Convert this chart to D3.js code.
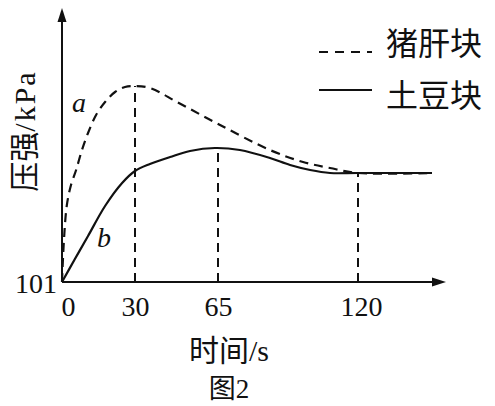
<!DOCTYPE html>
<html>
<head>
<meta charset="utf-8">
<script src="https://cdn.jsdelivr.net/npm/d3@7/dist/d3.min.js"></script>
<style>
  html, body { margin: 0; padding: 0; background: #fff; }
  svg { display: block; }
  text { font-family: "Liberation Serif", "Noto Sans CJK SC", serif; fill: #111; }
  .cjk { font-family: "Noto Sans CJK SC", sans-serif; }
  .lat { font-family: "Liberation Serif", serif; }
</style>
</head>
<body>
<svg id="chart" width="495" height="406"></svg>
<script>
// ---- data ----
const xTicks = [0, 30, 65, 120];
const yTicks = [101];
const seriesNames = ["猪肝块", "土豆块"];
const curveLabels = ["a", "b"];
// curve a : 猪肝块 (time s, pressure kPa)
const liverTime = [0, 0.8, 2.0, 3.7, 5.8, 8.2, 10.7, 14.0, 17.7, 21.8, 25.9, 30, 36.3, 47.7, 65.8, 85.4, 98.4, 109, 120, 150];
const liverPressure = [101, 105.2, 108.7, 110.7, 112.2, 114.2, 115.9, 117.7, 119.0, 120.0, 120.5, 120.6, 120.4, 119.0, 116.7, 114.2, 113.0, 112.4, 111.9, 111.9];
// curve b : 土豆块
const potatoTime = [0, 5.3, 10.7, 17.7, 24.7, 30, 36.3, 44.8, 53.2, 63.7, 73.6, 85.4, 93.3, 101.2, 109, 120, 150];
const potatoPressure = [101, 103.3, 105.6, 108.6, 110.9, 112.1, 112.8, 113.5, 114.1, 114.4, 114.2, 113.4, 112.7, 112.2, 111.9, 111.9, 111.9];
// guide lines: [time, pressure top]
const guideTime = [30, 65, 120];
const guideTop = [120.6, 114.4, 111.9];

// ---- drawing ----
const svg = d3.select("#chart");
const x = d3.scaleLinear().domain([0, 30, 65, 120, 150]).range([62, 135, 218, 358, 432]);
const y = d3.scaleLinear().domain([101, 128.4]).range([282, 8]);

const ink = "#111";

// guide lines
svg.append("g").selectAll("line").data(guideTime).join("line")
  .attr("x1", d => x(d)).attr("x2", d => x(d))
  .attr("y1", y(101)).attr("y2", (d, i) => y(guideTop[i]))
  .attr("stroke", ink).attr("stroke-width", 2).attr("stroke-dasharray", "9,6");

const line = d3.line().x(d => x(d[0])).y(d => y(d[1])).curve(d3.curveCatmullRom.alpha(0.5));
const liver = liverTime.map((t, i) => [t, liverPressure[i]]);
const potato = potatoTime.map((t, i) => [t, potatoPressure[i]]);

svg.append("path").attr("d", line(liver)).attr("fill", "none")
  .attr("stroke", ink).attr("stroke-width", 2.2).attr("stroke-dasharray", "9,6");
svg.append("path").attr("d", line(potato)).attr("fill", "none")
  .attr("stroke", ink).attr("stroke-width", 2.2);

// axes
const xAxis = svg.append("g").attr("transform", `translate(0,${y(101)})`)
  .call(d3.axisBottom(x).tickValues(xTicks).tickSize(0).tickPadding(14).tickFormat(d3.format("d")));
xAxis.select(".domain").remove();
xAxis.selectAll("text").style("font-size", "28px").style("font-family", "Liberation Serif").style("fill", ink)
  .attr("dx", d => d === 0 ? 6 : (d === 120 ? 3 : 0));

const yAxis = svg.append("g").attr("transform", `translate(${x(0)},0)`)
  .call(d3.axisLeft(y).tickValues(yTicks).tickSize(0).tickPadding(5).tickFormat(d3.format("d")));
yAxis.select(".domain").remove();
yAxis.selectAll("text").style("font-size", "28px").style("font-family", "Liberation Serif").style("fill", ink).attr("dy", "0.38em");

// axis lines with arrows
svg.append("line").attr("x1", x(0)).attr("x2", 440).attr("y1", y(101)).attr("y2", y(101))
  .attr("stroke", ink).attr("stroke-width", 2);
svg.append("line").attr("x1", x(0)).attr("x2", x(0)).attr("y1", y(101)).attr("y2", 14)
  .attr("stroke", ink).attr("stroke-width", 2);
svg.append("path").attr("d", `M${x(0)},8 L${x(0) - 4.5},22 L${x(0) + 4.5},22 Z`).attr("fill", ink);
svg.append("path").attr("d", `M446,${y(101)} L432,${y(101) - 4.5} L432,${y(101) + 4.5} Z`).attr("fill", ink);

// axis titles (mixed CJK / Latin runs)
function mixed(sel, parts) {
  parts.forEach(p => {
    const t = sel.append("tspan").attr("class", p[1]).text(p[0]);
    if (p[2]) t.attr("letter-spacing", p[2]);
  });
  return sel;
}
mixed(svg.append("text").attr("transform", "translate(35,131) rotate(-90)")
  .attr("text-anchor", "middle").style("font-size", "30px"), [["压强", "cjk"], ["/kPa", "lat", "2"]]);
mixed(svg.append("text").attr("x", 229).attr("y", 361).attr("text-anchor", "middle")
  .style("font-size", "30px"), [["时间", "cjk"], ["/s", "lat"]]);
mixed(svg.append("text").attr("x", 229).attr("y", 398).attr("text-anchor", "middle")
  .style("font-size", "27px"), [["图", "cjk"], ["2", "lat"]]);

// curve labels
svg.append("text").attr("x", 72).attr("y", 112).attr("class", "lat").style("font-size", "28px").style("font-style", "italic").text(curveLabels[0]);
svg.append("text").attr("x", 97).attr("y", 247).attr("class", "lat").style("font-size", "28px").style("font-style", "italic").text(curveLabels[1]);

// legend
const legend = svg.append("g");
const legLineY = [52, 90];
const legTextY = [55, 107];
legend.selectAll("line").data(seriesNames).join("line")
  .attr("x1", 319).attr("x2", 372).attr("y1", (d, i) => legLineY[i]).attr("y2", (d, i) => legLineY[i])
  .attr("stroke", ink).attr("stroke-width", 2)
  .attr("stroke-dasharray", (d, i) => i === 0 ? "9,7" : null);
legend.selectAll("text").data(seriesNames).join("text")
  .attr("x", 386).attr("y", (d, i) => legTextY[i]).attr("class", "cjk")
  .style("font-size", "32px").text(d => d);
</script>
</body>
</html>
